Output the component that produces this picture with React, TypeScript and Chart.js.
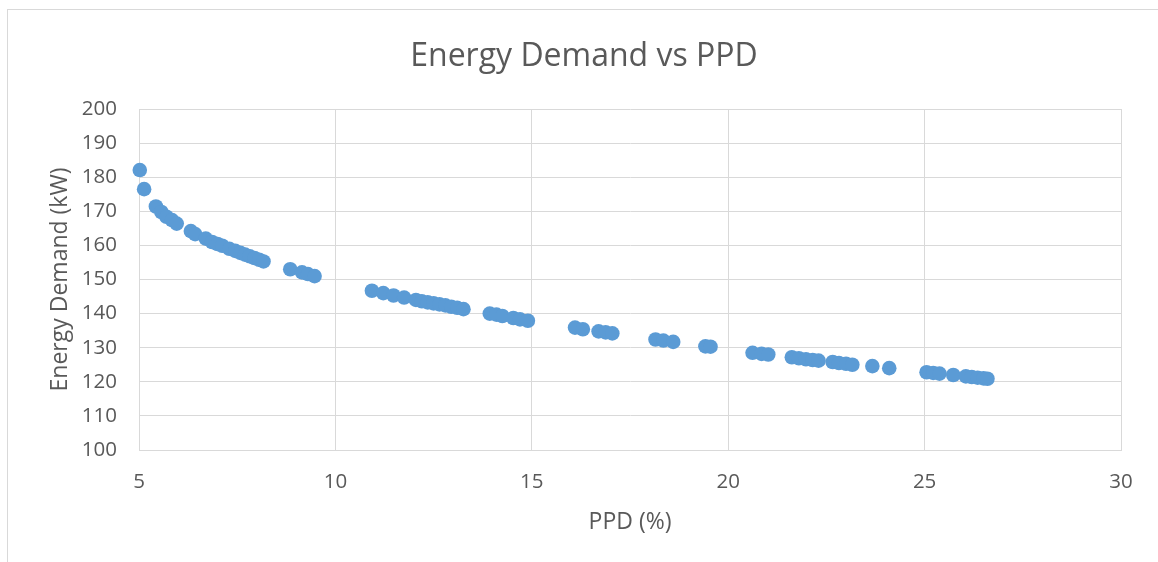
import React, { useEffect, useRef } from "react";
import { Chart, registerables } from "chart.js";

Chart.register(...registerables);

// PPD (%) for each simulated case
const ppd: number[] = [
  5.02, 5.13, 5.43, 5.57, 5.7, 5.84, 5.96, 6.32, 6.43, 6.7, 6.86, 7.0, 7.12, 7.3,
  7.45, 7.58, 7.7, 7.82, 7.94, 8.06, 8.17, 8.85, 9.15, 9.3, 9.47, 10.93, 11.22,
  11.48, 11.75, 12.05, 12.2, 12.35, 12.5, 12.65, 12.8, 12.95, 13.1, 13.26, 13.93,
  14.1, 14.25, 14.53, 14.7, 14.9, 16.1, 16.3, 16.7, 16.88, 17.05, 18.15, 18.35,
  18.6, 19.42, 19.55, 20.62, 20.85, 21.02, 21.62, 21.8, 21.98, 22.15, 22.3,
  22.66, 22.82, 23.0, 23.16, 23.67, 24.1, 25.05, 25.22, 25.38, 25.73, 26.05,
  26.2, 26.35, 26.5, 26.6,
];

// Energy demand (kW) for the same cases
const demand: number[] = [
  182.1, 176.5, 171.4, 169.8, 168.4, 167.4, 166.4, 164.2, 163.3, 162.0, 161.0,
  160.4, 159.9, 159.0, 158.4, 157.8, 157.3, 156.8, 156.3, 155.8, 155.3, 153.0,
  152.1, 151.6, 151.0, 146.7, 146.0, 145.3, 144.7, 144.0, 143.6, 143.3, 143.0,
  142.7, 142.4, 142.0, 141.7, 141.3, 140.0, 139.7, 139.3, 138.7, 138.3, 137.9,
  135.9, 135.4, 134.8, 134.5, 134.2, 132.4, 132.1, 131.7, 130.4, 130.3, 128.5,
  128.2, 128.0, 127.2, 126.9, 126.6, 126.4, 126.2, 125.8, 125.5, 125.3, 125.0,
  124.6, 124.0, 122.8, 122.6, 122.4, 122.0, 121.6, 121.4, 121.2, 121.0, 120.9,
];

const chartTitle = "Energy Demand vs PPD";
const xTitle = "PPD (%)";
const yTitle = "Energy Demand (kW)";

const TEXT = "#595959";
const GRID = "#d9d9d9";
const FONT = "'Open Sans', sans-serif";

export default function App() {
  const canvasRef = useRef<HTMLCanvasElement | null>(null);

  useEffect(() => {
    if (!canvasRef.current) return;
    const points = ppd.map((x, i) => ({ x, y: demand[i] }));
    const chart = new Chart(canvasRef.current, {
      type: "scatter",
      data: {
        datasets: [
          {
            label: yTitle,
            data: points,
            backgroundColor: "#5B9BD5",
            borderColor: "#5B9BD5",
            borderWidth: 0,
            pointRadius: 7.3,
            pointHoverRadius: 7.3,
            clip: false,
          },
        ],
      },
      options: {
        responsive: false,
        animation: false,
        devicePixelRatio: 1,
        layout: { padding: { left: 47, right: 37, top: 0, bottom: 0 } },
        plugins: {
          legend: { display: false },
          tooltip: { enabled: false },
          title: {
            display: true,
            text: chartTitle,
            color: TEXT,
            font: { family: FONT, size: 32, weight: "normal" },
            padding: { top: 38, bottom: 32.6 },
          },
        },
        scales: {
          x: {
            type: "linear",
            min: 5,
            max: 30,
            afterFit: (scale: any) => {
              scale.height = 112;
            },
            ticks: {
              stepSize: 5,
              color: TEXT,
              padding: 20,
              font: { family: FONT, size: 20.5 },
            },
            grid: { color: GRID, lineWidth: 1, drawTicks: false },
            border: { display: true, color: GRID, width: 1 },
            title: {
              display: true,
              text: xTitle,
              color: TEXT,
              font: { family: FONT, size: 23 },
              padding: { top: 0, bottom: 26 },
            },
          },
          y: {
            type: "linear",
            min: 100,
            max: 200,
            afterFit: (scale: any) => {
              scale.width = 92;
            },
            ticks: {
              stepSize: 10,
              color: TEXT,
              padding: 22,
              font: { family: FONT, size: 20.5 },
            },
            grid: { color: GRID, lineWidth: 1, drawTicks: false },
            border: { display: true, color: GRID, width: 1 },
            title: {
              display: true,
              text: yTitle,
              color: TEXT,
              font: { family: FONT, size: 23 },
              padding: { top: 0, bottom: 0 },
            },
          },
        },
      },
    });
    return () => chart.destroy();
  }, []);

  return (
    <div
      style={{
        position: "fixed",
        left: 0,
        top: 0,
        width: 1158,
        height: 562,
        overflow: "hidden",
        background: "#ffffff",
      }}
    >
      <div
        style={{
          position: "absolute",
          left: 7,
          top: 9,
          width: 1200,
          height: 600,
          border: "1px solid #d9d9d9",
        }}
      />
      <canvas
        ref={canvasRef}
        width={1158}
        height={562}
        style={{ position: "absolute", left: 0, top: 0 }}
      />
    </div>
  );
}
